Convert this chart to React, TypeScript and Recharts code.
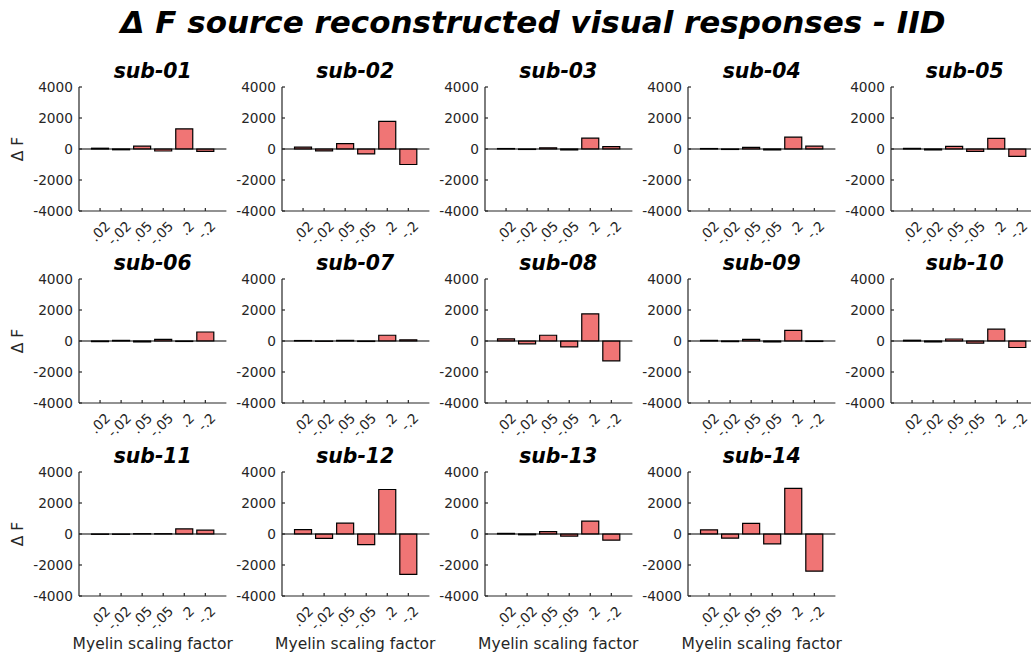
import { BarChart, Bar, XAxis, YAxis, ReferenceLine } from 'recharts'

const categories = ['.02', '-.02', '.05', '-.05', '.2', '-.2']
const subjects = ['sub-01', 'sub-02', 'sub-03', 'sub-04', 'sub-05', 'sub-06', 'sub-07',
  'sub-08', 'sub-09', 'sub-10', 'sub-11', 'sub-12', 'sub-13', 'sub-14']

// delta F per scaling factor, one list per subject
const sub01 = [50, -50, 180, -130, 1300, -150]
const sub02 = [120, -120, 350, -320, 1780, -1000]
const sub03 = [30, -30, 80, -60, 700, 150]
const sub04 = [30, -30, 100, -60, 770, 180]
const sub05 = [40, -60, 170, -150, 690, -470]
const sub06 = [-40, 40, -60, 100, -30, 580]
const sub07 = [30, -20, 40, -30, 370, 80]
const sub08 = [140, -180, 370, -380, 1750, -1280]
const sub09 = [40, -40, 100, -60, 690, -30]
const sub10 = [50, -60, 130, -140, 760, -420]
const sub11 = [-20, -20, 20, 20, 330, 250]
const sub12 = [280, -280, 700, -680, 2870, -2600]
const sub13 = [40, -50, 150, -140, 830, -400]
const sub14 = [270, -270, 690, -640, 2940, -2400]

const values = [sub01, sub02, sub03, sub04, sub05, sub06, sub07, sub08, sub09, sub10, sub11, sub12, sub13, sub14]
const yTicks = [-4000, -2000, 0, 2000, 4000]

const FONT = '"DejaVu Sans", sans-serif'
const colX = [79, 281.5, 484.5, 688, 891]
const rowTop = [87, 279.3, 471.7]
const PLOT_W = 147.4
const PLOT_H = 124
const Y_AXIS_W = 75
const TOP = 10

function YTick(props: any) {
  const { y, payload } = props
  return (
    <g>
      <line x1={Y_AXIS_W} x2={Y_AXIS_W + 3} y1={y} y2={y} stroke="#262626" strokeWidth={1.2} />
      <text x={Y_AXIS_W - 6} y={y} dy="0.36em" textAnchor="end" fill="#262626" fontSize={13.7} fontFamily={FONT}>
        {payload.value}
      </text>
    </g>
  )
}

function XTick(props: any) {
  const { x, payload } = props
  const axisY = TOP + PLOT_H
  return (
    <g>
      <line x1={x} x2={x} y1={axisY} y2={axisY - 3} stroke="#262626" strokeWidth={1.2} />
      <text
        transform={`translate(${x + 11},${axisY + 16}) rotate(-45)`}
        textAnchor="end"
        fill="#262626"
        fontSize={13.7}
        fontFamily={FONT}
      >
        {payload.value}
      </text>
    </g>
  )
}

function Panel({ index }: { index: number }) {
  const col = index % 5
  const row = Math.floor(index / 5)
  const data = categories.map((c, i) => ({ name: c, value: values[index][i] }))
  const left = colX[col]
  const top = rowTop[row]
  const pad = PLOT_W / 14
  return (
    <>
      <div style={{
        position: 'absolute', left: left + PLOT_W / 2 - 100, width: 200, top: top - 27,
        textAlign: 'center', fontFamily: FONT, fontSize: 20.4, fontWeight: 'bold',
        fontStyle: 'italic', lineHeight: '22px', color: '#000',
      }}>
        {subjects[index]}
      </div>
      <div style={{ position: 'absolute', left: left - Y_AXIS_W, top: top - TOP }}>
        <BarChart
          width={Y_AXIS_W + PLOT_W + 2}
          height={TOP + PLOT_H + 40}
          data={data}
          margin={{ top: TOP, right: 2, bottom: 0, left: 0 }}
          barSize={17}
        >
          <XAxis
            dataKey="name"
            height={40}
            padding={{ left: pad, right: pad }}
            axisLine={{ stroke: '#262626', strokeWidth: 1.2 }}
            tickLine={false}
            tick={<XTick />}
            interval={0}
          />
          <YAxis
            width={Y_AXIS_W}
            domain={[-4000, 4000]}
            ticks={yTicks}
            axisLine={{ stroke: '#262626', strokeWidth: 1.2 }}
            tickLine={false}
            tick={<YTick />}
          />
          <ReferenceLine y={0} stroke="#000" strokeWidth={1.2} />
          <Bar dataKey="value" fill="#F07575" stroke="#000" strokeWidth={1.2} isAnimationActive={false} />
        </BarChart>
      </div>
      {col === 0 && (
        <div style={{
          position: 'absolute', left: 18 - 40, width: 80, top: top + PLOT_H / 2 - 10,
          textAlign: 'center', fontFamily: FONT, fontSize: 15.5, lineHeight: '20px',
          color: '#262626', transform: 'rotate(-90deg)',
        }}>
          Δ F
        </div>
      )}
      {row === 2 && (
        <div style={{
          position: 'absolute', left: left + PLOT_W / 2 - 110, width: 220, top: 634,
          textAlign: 'center', fontFamily: FONT, fontSize: 15.5, lineHeight: '20px', color: '#262626',
        }}>
          Myelin scaling factor
        </div>
      )}
    </>
  )
}

export default function App() {
  return (
    <div style={{
      position: 'absolute', left: 0, top: 0, width: 1031, height: 653,
      overflow: 'hidden', background: '#fff',
    }}>
      <div style={{
        position: 'absolute', left: 533 - 520, width: 1040, top: 4,
        textAlign: 'center', fontFamily: FONT, fontSize: 31, fontWeight: 'bold',
        fontStyle: 'italic', lineHeight: '36px', color: '#000',
      }}>
        Δ F source reconstructed visual responses - IID
      </div>
      {subjects.map((s, i) => (
        <Panel key={s} index={i} />
      ))}
    </div>
  )
}
